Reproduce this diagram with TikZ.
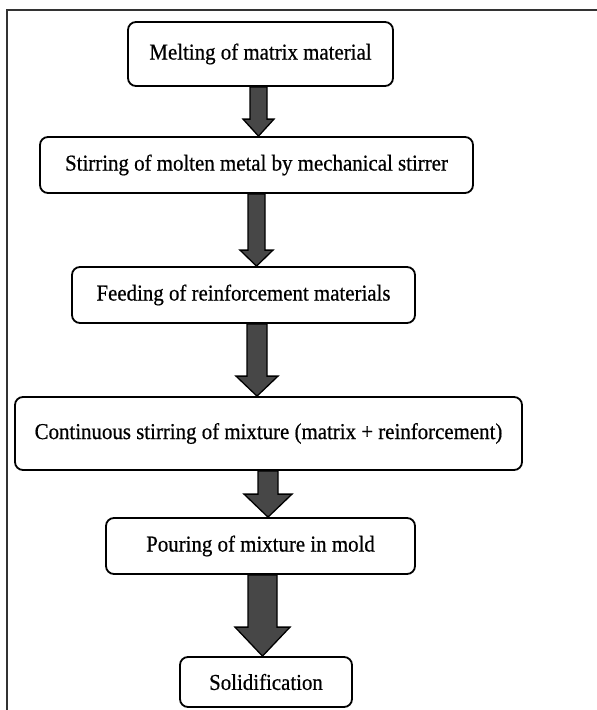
\documentclass[tikz,border=0pt]{standalone}
\usepackage{fontspec}
\setmainfont[FakeStretch=0.92, FakeBold=0.6]{Liberation Serif}
\usetikzlibrary{calc}

% fat arrow from one box to the next: from, to, x, shaft half, head half, head length
\newcommand{\flowarrow}[6]{%
  \draw[fatarrow] let \p1=(#1.south), \p2=(#2.north) in
    ({#3pt-#4pt},\y1) -- ({#3pt+#4pt},\y1) -- ({#3pt+#4pt},{\y2+#6pt})
    -- ({#3pt+#5pt},{\y2+#6pt}) -- (#3pt,\y2) -- ({#3pt-#5pt},{\y2+#6pt})
    -- ({#3pt-#4pt},{\y2+#6pt}) -- cycle;
}

\begin{document}
\begin{tikzpicture}[
      x=1pt, y=1pt,
      stagebox/.style={draw=black, line width=1.8pt, rounded corners=8pt, fill=white,
                       inner sep=0pt, font=\fontsize{22.7}{25}\selectfont},
      fatarrow/.style={draw=black, line width=1.3pt, fill=black!72, line join=miter}
    ]
    \useasboundingbox (0,0) rectangle (597,-710);

    %-----------------------------
    % frame
    %-----------------------------
    \draw[black!80, line width=1.2pt] (7,-710) -- (7,-10) -- (597,-10);

    %-----------------------------
    % process stages
    %-----------------------------
    \node[stagebox, minimum width=265, minimum height=64] (melt) at (260.5,-54)
      {Melting of matrix material};
    \node[stagebox, minimum width=433, minimum height=56] (stir) at (256.5,-165)
      {Stirring of molten metal by mechanical stirrer};
    \node[stagebox, minimum width=343, minimum height=56] (feed) at (243.5,-295)
      {Feeding of reinforcement materials};
    \node[stagebox, minimum width=507, minimum height=73] (mix) at (268.5,-433.5)
      {Continuous stirring of mixture (matrix + reinforcement)};
    \node[stagebox, minimum width=309, minimum height=56] (pour) at (260.5,-546)
      {Pouring of mixture in mold};
    \node[stagebox, minimum width=172, minimum height=50] (solid) at (266,-682)
      {Solidification};

    %-----------------------------
    % arrows
    %-----------------------------
    \flowarrow{melt}{stir}{258.5}{8.5}{15.5}{17}
    \flowarrow{stir}{feed}{256.5}{8.5}{16.5}{16}
    \flowarrow{feed}{mix}{257}{10}{21}{20}
    \flowarrow{mix}{pour}{268}{10}{24}{23}
    \flowarrow{pour}{solid}{262.5}{14.5}{27.5}{29}

  \end{tikzpicture}
\end{document}
